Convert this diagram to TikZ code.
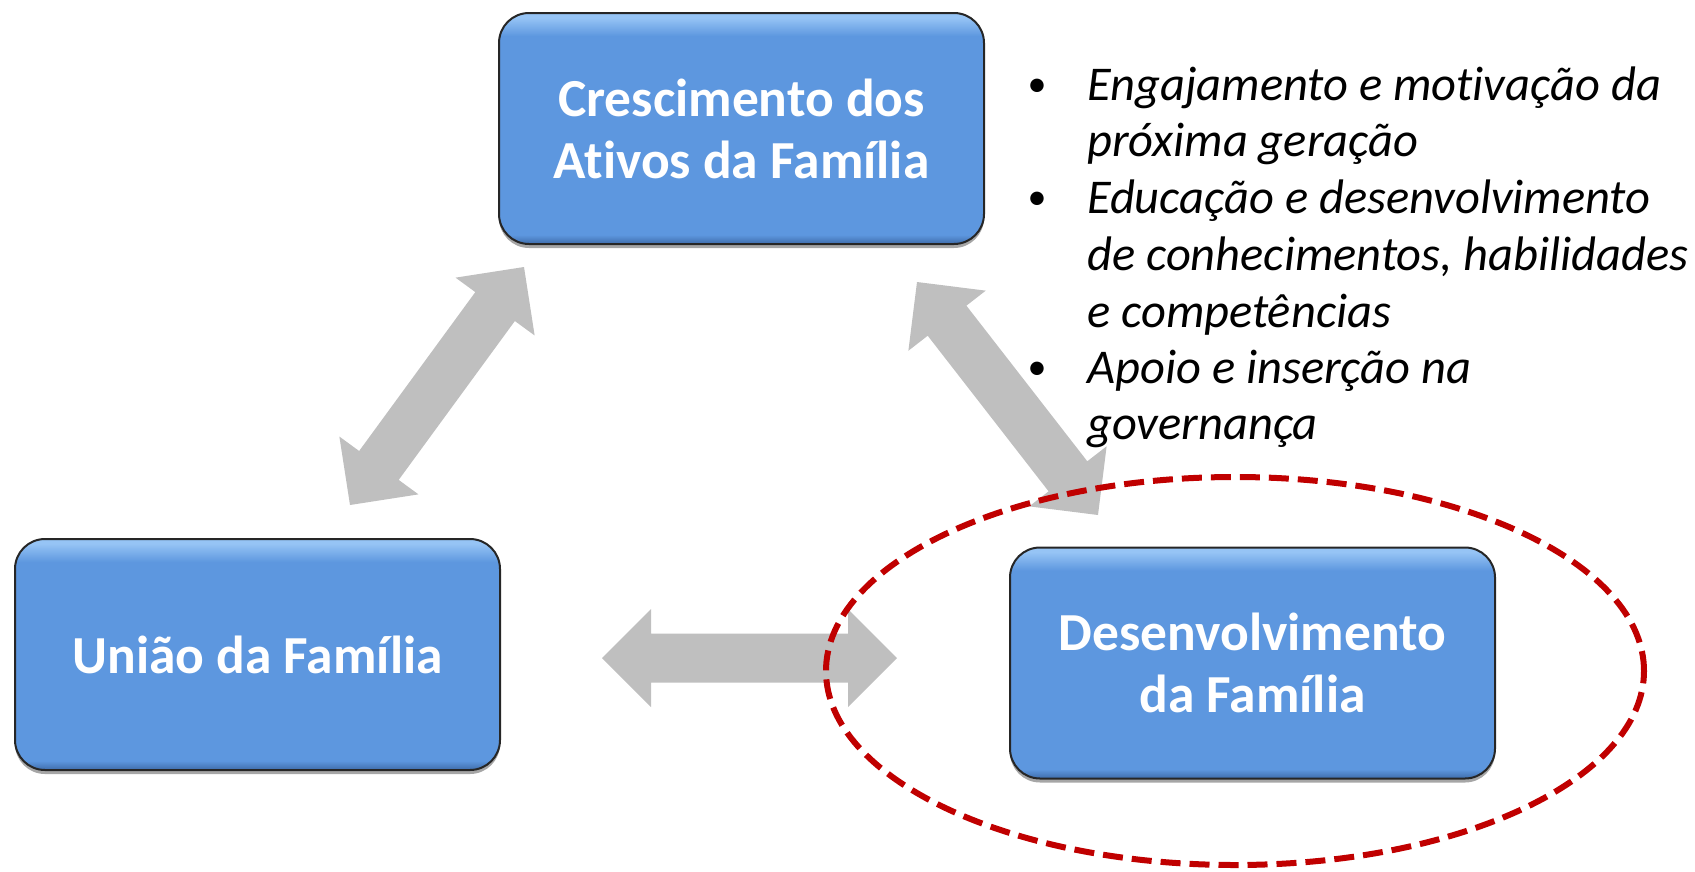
\documentclass[tikz,border=0pt]{standalone}
\usepackage{fontspec}
\setmainfont[Ligatures={NoCommon}]{Carlito}
\usetikzlibrary{calc,shapes.geometric,shadows}
\definecolor{boxblue}{RGB}{93,151,223}
\definecolor{boxlight}{RGB}{150,196,245}
\definecolor{boxdark}{RGB}{62,108,170}
\definecolor{arrowgray}{RGB}{191,191,191}
\definecolor{focusred}{RGB}{192,0,0}
\pgfdeclareverticalshading{boxshade}{100bp}{color(0bp)=(boxdark); color(25bp)=(boxdark); color(27bp)=(boxblue); color(70bp)=(boxblue); color(74bp)=(boxlight); color(100bp)=(boxlight)}
\newcommand\famarrow[2]{%
  \fill[arrowgray] (#1)
  -- ($(#1)!49pt!(#2)!49pt!90:(#2)$)
  -- ($(#1)!49pt!(#2)!24.5pt!90:(#2)$)
  -- ($(#2)!49pt!(#1)!24.5pt!-90:(#1)$)
  -- ($(#2)!49pt!(#1)!49pt!-90:(#1)$)
  -- (#2)
  -- ($(#2)!49pt!(#1)!49pt!90:(#1)$)
  -- ($(#2)!49pt!(#1)!24.5pt!90:(#1)$)
  -- ($(#1)!49pt!(#2)!24.5pt!-90:(#2)$)
  -- ($(#1)!49pt!(#2)!49pt!-90:(#2)$)
  -- cycle;}
\tikzset{
  famBox/.style={rounded corners=30pt, draw=black!85, line width=2pt,
    shade, shading=boxshade, minimum width=485pt, minimum height=231pt,
    inner sep=0pt, text=white, align=center,
    font=\bfseries\fontsize{53.5}{62}\selectfont,
    drop shadow={shadow xshift=0pt, shadow yshift=-4pt, fill=black, opacity=0.35}},
  bulletText/.style={anchor=base west, inner sep=0pt, font=\itshape\fontsize{48.5}{56}\selectfont},
  bulletDot/.style={anchor=base, inner sep=0pt, font=\fontsize{38}{56}\selectfont},
  focusRing/.style={ellipse, draw=focusred, line width=6pt, dash pattern=on 20pt off 9pt,
    minimum width=818pt, minimum height=388pt, inner sep=0pt}
}
\begin{document}
\begin{tikzpicture}[x=1pt,y=-1pt]
\useasboundingbox (0,0) rectangle (1695,871);
% arrow end points
\coordinate (la1) at (350,505);
\coordinate (la2) at (524,267);
\coordinate (ra1) at (917,282);
\coordinate (ra2) at (1098,515);
\coordinate (ha1) at (602,658);
\coordinate (ha2) at (897,658);
\famarrow{la1}{la2}
\famarrow{ra1}{ra2}
\famarrow{ha1}{ha2}
% boxes
\node[famBox] (ativos) at (741.5,128.5) {Crescimento dos\\Ativos da Família};
\node[famBox] (uniao) at (257.5,654.5) {União da Família};
\node[famBox] (desenv) at (1252.5,663) {Desenvolvimento\\da Família};
% bullet list
\node[bulletDot] (b1) at (1037,96) {•};
\node[bulletDot] (b2) at (1037,209) {•};
\node[bulletDot] (b3) at (1037,379) {•};
\node[bulletText] (t1) at (1087,100) {Engajamento e motivação da};
\node[bulletText] (t2) at (1087,156) {próxima geração};
\node[bulletText] (t3) at (1087,213) {Educação e desenvolvimento};
\node[bulletText] (t4) at (1087,270) {de conhecimentos, habilidades};
\node[bulletText] (t5) at (1087,327) {e competências};
\node[bulletText] (t6) at (1087,383) {Apoio e inserção na};
\node[bulletText] (t7) at (1087,439) {governança};
% focus ellipse
\node[focusRing] (focus) at (1235,671) {};
\end{tikzpicture}
\end{document}
